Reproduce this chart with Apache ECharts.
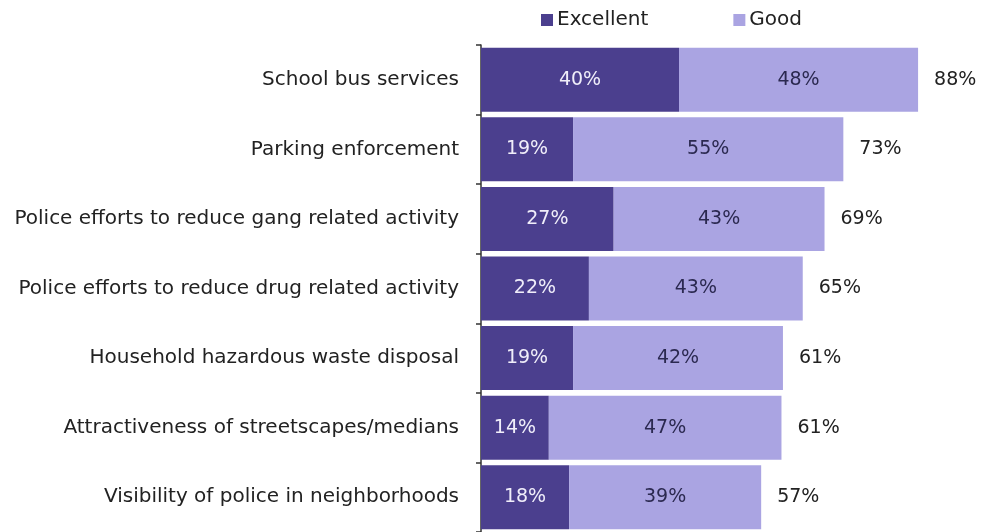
<!DOCTYPE html>
<html>
<head>
<meta charset="utf-8">
<script src="https://cdn.jsdelivr.net/npm/echarts@6/dist/echarts.min.js"></script>
<style>
html,body{margin:0;padding:0;background:#fff;}
#chart{width:982px;height:532px;}
</style>
</head>
<body>
<div id="chart"></div>
<script>
var categories = [
  "School bus services",
  "Parking enforcement",
  "Police efforts to reduce gang related activity",
  "Police efforts to reduce drug related activity",
  "Household hazardous waste disposal",
  "Attractiveness of streetscapes/medians",
  "Visibility of police in neighborhoods"
];
var excellent = [40, 18.6, 26.8, 21.8, 18.6, 13.7, 17.8];
var good = [48.3, 54.6, 42.6, 43.2, 42.4, 47.0, 38.8];
var totals = [88, 73, 69, 65, 61, 61, 57];

var FONT = "DejaVu Sans";
var chart = echarts.init(document.getElementById('chart'), null, {renderer: 'canvas'});
chart.setOption({
  animation: false,
  textStyle: {fontFamily: FONT},
  legend: {
    data: ["Excellent", "Good"],
    left: 536, top: 5,
    itemWidth: 12, itemHeight: 12, itemGap: 85,
    icon: 'rect',
    textStyle: {fontFamily: FONT, fontSize: 20, color: '#222', padding: [0,0,0,-1]}
  },
  grid: {left: 481, top: 45, width: 495, height: 490, containLabel: false},
  xAxis: {type: 'value', min: 0, max: 100, show: false},
  yAxis: {
    type: 'category', data: categories, inverse: true,
    axisLine: {show: true, lineStyle: {color: '#333', width: 1.5}},
    axisTick: {show: true, length: 5, lineStyle: {color: '#333', width: 1.5}},
    axisLabel: {fontFamily: FONT, fontSize: 20, color: '#222', margin: 22}
  },
  series: [
    {
      name: "Excellent", type: 'bar', stack: 's', data: excellent, barWidth: 64,
      itemStyle: {color: '#4b3f8e'},
      label: {show: true, position: 'inside', fontFamily: FONT, fontSize: 19, color: '#f0eefa',
        formatter: function(p){ return Math.round(p.value) + '%'; }}
    },
    {
      name: "Good", type: 'bar', stack: 's', data: good, barWidth: 64,
      itemStyle: {color: '#aaa4e2'},
      label: {show: true, position: 'inside', fontFamily: FONT, fontSize: 19, color: '#2b2950',
        formatter: function(p){ return Math.round(p.value) + '%'; }}
    },
    {
      name: "Total", type: 'bar', stack: 's', data: totals.map(function(){return 0;}), barWidth: 64,
      itemStyle: {color: 'rgba(0,0,0,0)'},
      label: {show: true, position: 'right', distance: 16, fontFamily: FONT, fontSize: 19, color: '#222',
        formatter: function(p){ return totals[p.dataIndex] + '%'; }}
    }
  ]
});
</script>
</body>
</html>
